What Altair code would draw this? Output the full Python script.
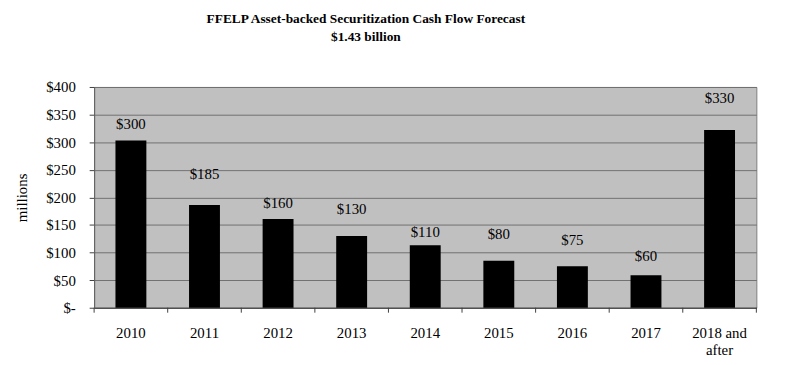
import altair as alt
import pandas as pd

categories = ["2010", "2011", "2012", "2013", "2014", "2015", "2016", "2017", "2018 and after"]
values = [303, 186, 161, 130, 113, 85, 75, 59, 322]
labels = ["$300", "$185", "$160", "$130", "$110", "$80", "$75", "$60", "$330"]
label_y = [333, 242, 190, 179, 138, 133, 122, 94, 380]

df = pd.DataFrame({"cat": categories, "value": values, "label": labels, "ly": label_y})

W, H = 669, 223
FONT = "Liberation Serif"
STEP = W / len(categories)

xscale = alt.Scale(paddingInner=0.58, paddingOuter=0.29)
yscale = alt.Scale(domain=[0, 400], nice=False)
xaxis = alt.Axis(labelAngle=0, ticks=False, labelPadding=18,
                 labelFont=FONT, labelFontSize=15, labelColor="black",
                 domainColor="#404040", domainWidth=1,
                 labelExpr="datum.label == '2018 and after' ? ['2018 and', 'after'] : datum.label")
yaxis = alt.Axis(values=list(range(0, 401, 50)), title="millions",
                 labelOverlap=False,
                 labelExpr="datum.value == 0 ? '$-' : '$' + datum.value",
                 labelFont=FONT, labelFontSize=15, labelColor="black",
                 labelPadding=14, tickSize=5, tickColor="#404040",
                 domainColor="#606060", gridColor="#707070", gridWidth=1,
                 titleFont=FONT, titleFontSize=15, titleFontWeight="normal",
                 titleColor="black", titleX=-73, titleY=111.5,
                 titleAngle=270, titleAlign="center", titleBaseline="middle")

bars = alt.Chart(df).mark_bar(color="black").encode(
    x=alt.X("cat:N", sort=categories, scale=xscale, title=None, axis=xaxis),
    y=alt.Y("value:Q", scale=yscale, title="millions", axis=yaxis),
)

text = alt.Chart(df).mark_text(font=FONT, fontSize=15, color="black", baseline="middle").encode(
    x=alt.X("cat:N", sort=categories, scale=xscale, title=None, axis=xaxis),
    y=alt.Y("ly:Q", scale=yscale, title="millions", axis=yaxis),
    text="label:N",
)

ticks = alt.Chart(df).mark_rule(color="#404040", xOffset=-0.29 * STEP).encode(
    x=alt.X("cat:N", sort=categories, scale=xscale, bandPosition=0, title=None, axis=xaxis),
    y=alt.value(H), y2=alt.value(H + 5),
)
endtick = alt.Chart(df.head(1)).mark_rule(color="#404040").encode(
    x=alt.value(W), y=alt.value(H), y2=alt.value(H + 5),
)

chart = alt.layer(bars, text, ticks, endtick).properties(
    width=W, height=H,
    title=alt.TitleParams(
        text=["FFELP Asset-backed Securitization Cash Flow Forecast", "$1.43 billion"],
        font=FONT, fontSize=13.5, fontWeight="bold", color="black",
        anchor="middle", dx=-60, offset=37, lineHeight=18,
    ),
    autosize=alt.AutoSizeParams(type="none"),
    padding={"left": 87, "top": 78, "right": 35, "bottom": 50},
).configure_view(
    fill="#C0C0C0", stroke="#808080", strokeWidth=1
)

chart.save("out.html", embed_options={"renderer": "svg", "actions": False})
